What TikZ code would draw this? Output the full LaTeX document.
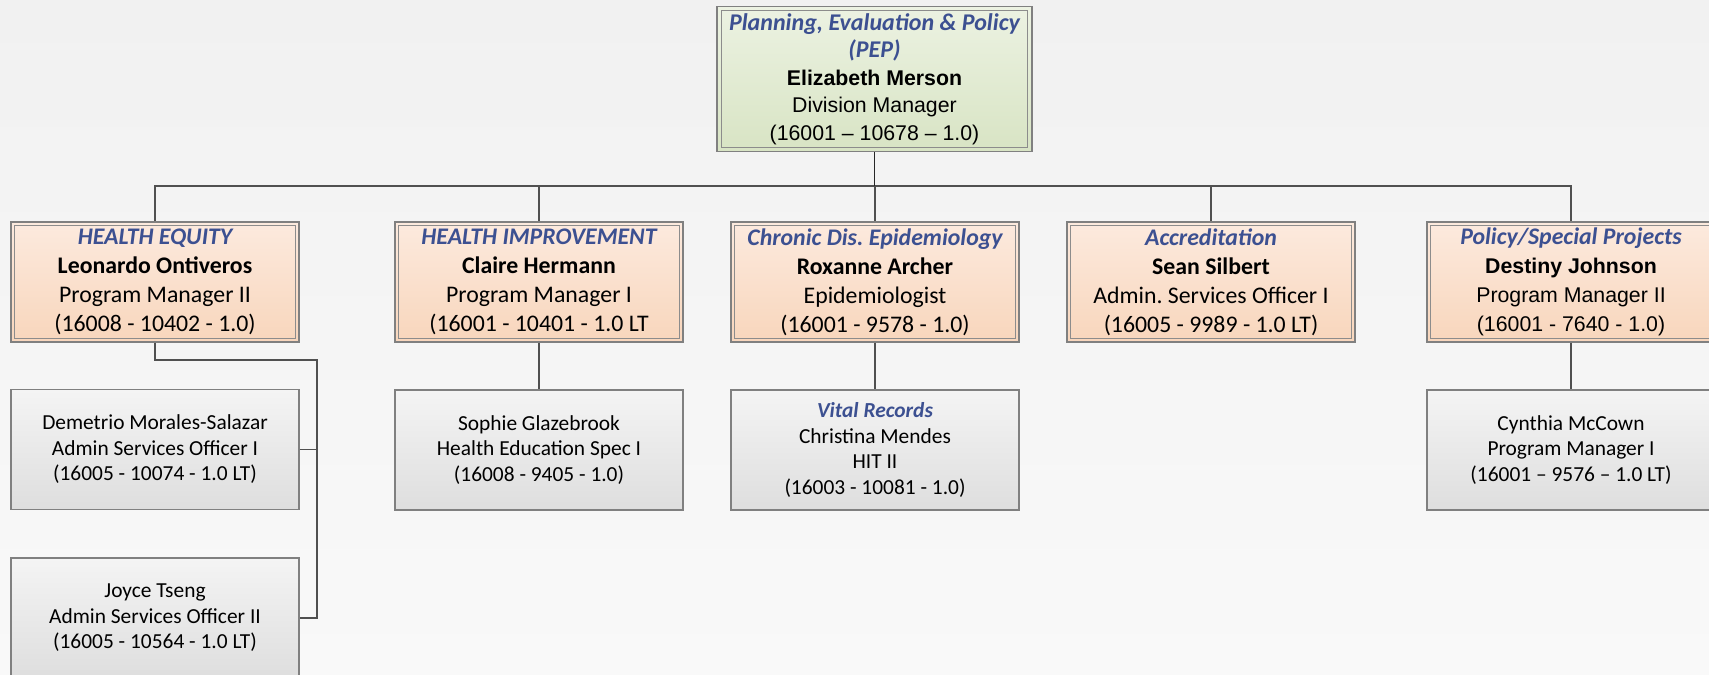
\documentclass[tikz,border=0pt]{standalone}
\usepackage{fontspec}
\setmainfont{Carlito}
\newfontfamily\arialf[Ligatures=TeX]{Liberation Sans}
\frenchspacing
\definecolor{hblue}{RGB}{60,80,145}
\definecolor{boxline}{RGB}{128,128,128}
\definecolor{innerline}{RGB}{140,140,140}
\definecolor{conn}{RGB}{80,80,80}
\definecolor{peachT}{RGB}{252,234,222}
\definecolor{peachB}{RGB}{248,214,188}
\definecolor{greenT}{RGB}{236,242,226}
\definecolor{greenB}{RGB}{216,228,196}
\definecolor{grayT}{RGB}{244,244,244}
\definecolor{grayB}{RGB}{222,222,222}
\definecolor{bgT}{RGB}{241,241,241}
\definecolor{bgB}{RGB}{249,249,249}
\newcommand\hd[1]{{\color{hblue}\bfseries\itshape #1}}
\newcommand\ar[1]{{\arialf\fontsize{21.3}{27}\selectfont #1}}
\begin{document}
\begin{tikzpicture}[x=1pt,y=-1pt,
  box/.style={rectangle, draw=boxline, line width=1.3pt, minimum width=288pt,
    minimum height=120pt, inner sep=0pt, align=center},
  mgr/.style={box, top color=peachT, bottom color=peachB,
    font=\fontsize{23.8}{29}\selectfont\frenchspacing},
  staff/.style={box, top color=grayT, bottom color=grayB,
    font=\fontsize{21.4}{25.5}\selectfont\frenchspacing},
  topbox/.style={box, minimum width=315pt, minimum height=145pt,
    top color=greenT, bottom color=greenB, font=\fontsize{24}{27.5}\selectfont},
  inner/.style={draw=innerline, line width=0.9pt},
  link/.style={draw=conn, line width=1.2pt},
  toplink/.style={draw=black!85, line width=1.6pt}]
\useasboundingbox (0,0) rectangle (1709,675);
\shade[top color=bgT, bottom color=bgB] (0,0) rectangle (1709,675);

\node[topbox] (top) at (874.5,79) {\hd{Planning, Evaluation \& Policy}\\\hd{(PEP)}\\
  \ar{\bfseries Elizabeth Merson}\\\ar{Division Manager}\\\ar{(16001 – 10678 – 1.0)}};

\node[mgr] (m1) at (155,282) {\hd{HEALTH EQUITY}\\\textbf{Leonardo Ontiveros}\\Program Manager II\\(16008 - 10402 - 1.0)};
\node[mgr] (m2) at (539,282) {\hd{HEALTH IMPROVEMENT}\\\textbf{Claire Hermann}\\Program Manager I\\(16001 - 10401 - 1.0 LT};
\node[mgr] (m3) at (875,282) {\hd{Chronic Dis. Epidemiology}\\\textbf{Roxanne Archer}\\Epidemiologist\\(16001 - 9578 - 1.0)};
\node[mgr] (m4) at (1211,282) {\hd{Accreditation}\\\textbf{Sean Silbert}\\Admin. Services Officer I\\(16005 - 9989 - 1.0 LT)};
\node[mgr] (m5) at (1571,282) {\hd{Policy/Special Projects}\\\ar{\bfseries Destiny Johnson}\\\ar{Program Manager II}\\\ar{(16001 - 7640 - 1.0)}};

\foreach \n in {m1,m2,m3,m4,m5}
  \draw[inner] ([xshift=4pt,yshift=-4pt]\n.north west) rectangle ([xshift=-4pt,yshift=4pt]\n.south east);
\draw[inner] ([xshift=5pt,yshift=-5pt]top.north west) rectangle ([xshift=-5pt,yshift=5pt]top.south east);

\node[staff] (s1a) at (155,449.5) {Demetrio Morales-Salazar\\Admin Services Officer I\\(16005 - 10074 - 1.0 LT)};
\node[staff] (s1b) at (155,618) {Joyce Tseng\\Admin Services Officer II\\(16005 - 10564 - 1.0 LT)};
\node[staff] (s2) at (539,450) {Sophie Glazebrook\\Health Education Spec I\\(16008 - 9405 - 1.0)};
\node[staff] (s3) at (875,450) {\hd{Vital Records}\\Christina Mendes\\HIT II\\(16003 - 10081 - 1.0)};
\node[staff] (s5) at (1571,450) {Cynthia McCown\\Program Manager I\\(16001 – 9576 – 1.0 LT)};

\coordinate (bus) at (874.5,186);
\coordinate (lb) at (317,360);
\foreach \n in {m1,m2,m3,m4,m5}
  \draw[link] (bus) -| (\n.north);
\draw[toplink] (top.south) -- (bus);
\draw[link] (m2.south) -- (s2.north);
\draw[link] (m3.south) -- (s3.north);
\draw[link] (m5.south) -- (s5.north);
\draw[link] (m1.south) |- (lb) |- (s1b.east);
\draw[link] (s1a.east) -- (s1a.east -| lb);
\end{tikzpicture}
\end{document}
